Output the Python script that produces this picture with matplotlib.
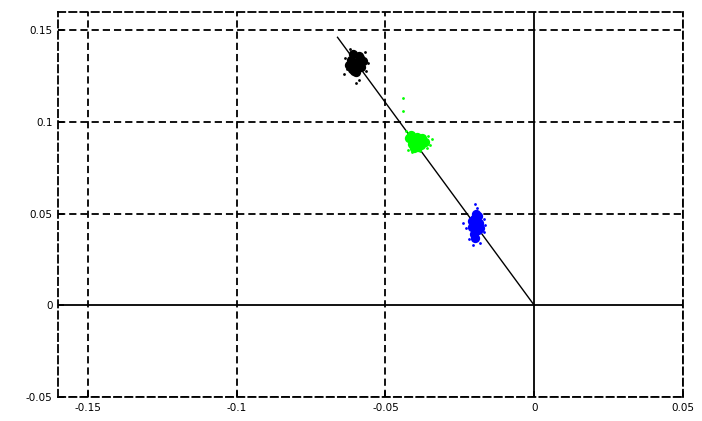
import numpy as np
from matplotlib import pyplot as plt

### axis ticks
x_ticks = [-0.15, -0.1, -0.05, 0, 0.05]
x_labels = ['-0.15', '-0.1', '-0.05', '0', '0.05']
y_ticks = [-0.05, 0, 0.05, 0.1, 0.15]
y_labels = ['-0.05', '0', '0.05', '0.1', '0.15']

### reference line from origin
line_x = [0, -0.0661]
line_y = [0, 0.1462]

### black cluster
black_core_x = [-0.0598, -0.0615, -0.0582, -0.0605, -0.0590, -0.0622, -0.0576, -0.0600, -0.0612, -0.0584, -0.0596, -0.0608]
black_core_y = [0.132, 0.134, 0.130, 0.128, 0.136, 0.131, 0.133, 0.1275, 0.129, 0.135, 0.1295, 0.137]
black_dot_x = [-0.0640, -0.0565, -0.0588, -0.0598, -0.0618, -0.0568, -0.0635, -0.0560, -0.0628]
black_dot_y = [0.126, 0.128, 0.123, 0.121, 0.140, 0.138, 0.135, 0.132, 0.129]

### green cluster
green_core_x = [-0.0400, -0.0412, -0.0388, -0.0422, -0.0378, -0.0405, -0.0395, -0.0368, -0.0415, -0.0392, -0.0380]
green_core_y = [0.090, 0.088, 0.089, 0.091, 0.091, 0.086, 0.092, 0.089, 0.093, 0.0865, 0.0875]
green_dot_x = [-0.0440, -0.0440, -0.0345, -0.0350, -0.0410, -0.0432, -0.0358, -0.0385, -0.0425, -0.0360]
green_dot_y = [0.113, 0.106, 0.0905, 0.0875, 0.0835, 0.0950, 0.0925, 0.0840, 0.0850, 0.0860]

### blue cluster
blue_core_x = [-0.0195, -0.0202, -0.0190, -0.0208, -0.0185, -0.0197, -0.0203, -0.0188, -0.0198, -0.0210, -0.0184]
blue_core_y = [0.044, 0.047, 0.041, 0.043, 0.045, 0.050, 0.039, 0.049, 0.037, 0.046, 0.042]
blue_dot_x = [-0.0200, -0.0228, -0.0238, -0.0168, -0.0183, -0.0205, -0.0170, -0.0218, -0.0192, -0.0165]
blue_dot_y = [0.0555, 0.0420, 0.0450, 0.0470, 0.0340, 0.0330, 0.0400, 0.0360, 0.0530, 0.0440]

fig = plt.figure(figsize=(7.02, 4.21), dpi=100)
ax = fig.add_axes([0.0826, 0.057, 0.8905, 0.9145])

dash = (0, (4, 2.2))
for xv in x_ticks:
    if xv != 0:
        ax.axvline(xv, color='k', lw=1.3, ls=dash, zorder=1)
for yv in y_ticks:
    if yv != 0:
        ax.axhline(yv, color='k', lw=1.3, ls=dash, zorder=1)
ax.axvline(0, color='k', lw=1.3, zorder=1)
ax.axhline(0, color='k', lw=1.3, zorder=1)

ax.plot(line_x, line_y, color='k', lw=1, zorder=2)

ax.scatter(black_core_x, black_core_y, s=45, c='k', lw=0, zorder=3)
ax.scatter(black_dot_x, black_dot_y, s=4, c='k', lw=0, zorder=3)
ax.scatter(green_core_x, green_core_y, s=45, c='#00ff00', lw=0, zorder=3)
ax.scatter(green_dot_x, green_dot_y, s=4, c='#00ff00', lw=0, zorder=3)
ax.scatter(blue_core_x, blue_core_y, s=45, c='#0000ff', lw=0, zorder=3)
ax.scatter(blue_dot_x, blue_dot_y, s=4, c='#0000ff', lw=0, zorder=3)

ax.set_xlim(-0.16, 0.05)
ax.set_ylim(-0.05, 0.16)
ax.set_xticks(x_ticks)
ax.set_xticklabels(x_labels)
ax.set_yticks(y_ticks)
ax.set_yticklabels(y_labels)
ax.tick_params(direction='in', length=4, width=1.3, labelsize=7.5, pad=4)

for sp in ax.spines.values():
    sp.set_linestyle(dash)
    sp.set_linewidth(1.3)

fig.savefig('out.png', dpi=100)
